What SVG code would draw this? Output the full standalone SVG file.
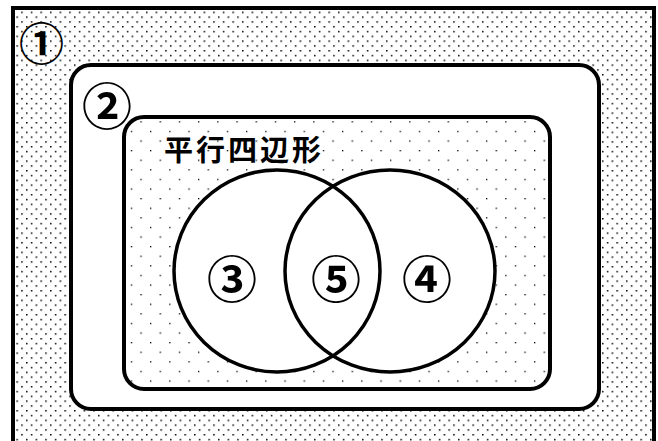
<svg xmlns="http://www.w3.org/2000/svg" width="658" height="441" viewBox="0 0 658 441">
  <defs>
    <pattern id="dense" patternUnits="userSpaceOnUse" width="9.6" height="9.6" x="2" y="2">
      <rect x="0" y="0" width="1.5" height="1.5" fill="#000"/>
      <rect x="4.8" y="4.8" width="1.5" height="1.5" fill="#000"/>
    </pattern>
    <pattern id="sparse" patternUnits="userSpaceOnUse" width="19.2" height="19.2" x="6" y="6">
      <rect x="0" y="0" width="1.3" height="1.3" fill="#000"/>
      <rect x="9.6" y="9.6" width="1.3" height="1.3" fill="#000"/>
    </pattern>
    <style>
      .box { stroke: #000; stroke-width: 4; }
      .disc { fill: #fff; stroke: none; }
      .ring { fill: none; stroke: #000; stroke-width: 3.5; }
      .num { font-family: "Noto Sans CJK JP", "Noto Sans", sans-serif; font-weight: bold; text-anchor: middle; dominant-baseline: central; fill: #000; }
      .title { font-family: "Noto Sans CJK JP", sans-serif; font-weight: bold; font-size: 29px; letter-spacing: 3px; fill: #000; }
    </style>
  </defs>
  <rect width="658" height="441" fill="#fff"/>
  <g id="region1">
    <rect class="box" x="13" y="8" width="641" height="445" fill="url(#dense)"/>
    <text class="num" x="41.5" y="41.5" font-size="45">①</text>
  </g>
  <g id="region2">
    <rect class="box" x="71" y="65" width="528" height="344" rx="20" ry="20" fill="#fff"/>
    <text class="num" x="107" y="103" font-size="50">②</text>
  </g>
  <g id="parallelogram">
    <rect class="box" x="124" y="117" width="426" height="272" rx="20" ry="20" fill="url(#sparse)"/>
    <text class="title" x="164" y="161">平行四辺形</text>
  </g>
  <g id="circles">
    <ellipse class="disc" cx="277" cy="271" rx="103" ry="101"/>
    <ellipse class="disc" cx="390" cy="271" rx="105" ry="101"/>
    <ellipse id="circleA" class="ring" cx="277" cy="271" rx="103" ry="101"/>
    <ellipse id="circleB" class="ring" cx="390" cy="271" rx="105" ry="101"/>
  </g>
  <g id="labels">
    <text class="num" x="232" y="276" font-size="50">③</text>
    <text class="num" x="336" y="276" font-size="50">⑤</text>
    <text class="num" x="427" y="276" font-size="50">④</text>
  </g>
</svg>
